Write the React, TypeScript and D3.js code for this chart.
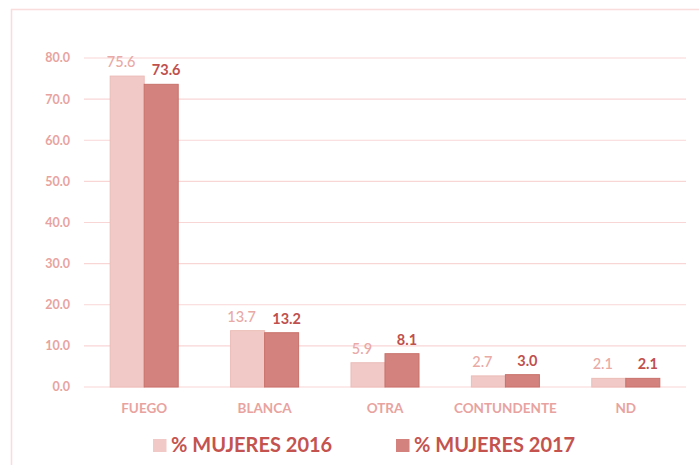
import React from "react";
import * as d3 from "d3";

const categories = ["FUEGO", "BLANCA", "OTRA", "CONTUNDENTE", "ND"];
const series2016 = [75.6, 13.7, 5.9, 2.7, 2.1];
const series2017 = [73.6, 13.2, 8.1, 3.0, 2.1];
const seriesNames = ["% MUJERES 2016", "% MUJERES 2017"];
const yTicks = [0, 10, 20, 30, 40, 50, 60, 70, 80];

const W = 699;
const H = 465;
const FONT = "Lato, 'Open Sans', sans-serif";

export default function App() {
  const x = d3.scaleBand<string>().domain(categories).range([84, 686]).paddingInner(0.435).paddingOuter(0.2175);
  const inner = d3.scaleBand<string>().domain(["a", "b"]).range([0, x.bandwidth()]);
  const y = d3.scaleLinear().domain([0, 80]).range([387, 58]);
  const fmt = d3.format(".1f");
  const c16 = "#f1cac7";
  const c17 = "#d4827d";
  const series = [
    { key: "a", vals: series2016, fill: c16, stroke: "#ebbcb8", label: "#e9a9a5", weight: 500, dx: -6 },
    { key: "b", vals: series2017, fill: c17, stroke: "#c8716b", label: "#c0504d", weight: 700, dx: 5 },
  ];
  return (
    <svg width={W} height={H} style={{ display: "block", position: "absolute", left: 0, top: 0 }}>
      <rect x={0} y={0} width={W} height={H} fill="#fff" />
      <line x1={11} y1={9.5} x2={W} y2={9.5} stroke="#f9dcdc" strokeWidth={1.5} />
      <line x1={11.5} y1={9} x2={11.5} y2={H} stroke="#f9dcdc" strokeWidth={1.5} />
      {yTicks.map((t) => (
        <g key={t}>
          <line x1={84} x2={686} y1={y(t)} y2={y(t)} stroke="#f9d6d6" strokeWidth={1.2} />
          <text x={70} y={y(t)} dy="0.35em" textAnchor="end" fontFamily={FONT} fontSize={12.5} fontWeight={700} fill="#e8a3a0">
            {fmt(t)}
          </text>
        </g>
      ))}
      {series.map((s) =>
        categories.map((c, i) => {
          const bx = (x(c) as number) + (inner(s.key) as number);
          const by = y(s.vals[i]);
          return (
            <g key={s.key + c}>
              <rect x={bx} y={by} width={inner.bandwidth()} height={y(0) - by} fill={s.fill} stroke={s.stroke} strokeWidth={1} />
              <text x={bx + inner.bandwidth() / 2 + s.dx} y={by - 9} textAnchor="middle" fontFamily={FONT} fontSize={14.5} fontWeight={s.weight} fill={s.label}>
                {fmt(s.vals[i])}
              </text>
            </g>
          );
        })
      )}
      {categories.map((c) => (
        <text key={c} x={(x(c) as number) + x.bandwidth() / 2} y={413} textAnchor="middle" fontFamily={FONT} fontSize={13.5} fontWeight={700} fill="#e8a3a0">
          {c}
        </text>
      ))}
      {seriesNames.map((n, i) => {
        const lx = i === 0 ? 153 : 396;
        return (
          <g key={n}>
            <rect x={lx} y={439} width={13.5} height={13} fill={i === 0 ? c16 : c17} />
            <text x={lx + 18} y={452} fontFamily={FONT} fontSize={20} fontWeight={700} fill="#c4534f">
              {n}
            </text>
          </g>
        );
      })}
    </svg>
  );
}
